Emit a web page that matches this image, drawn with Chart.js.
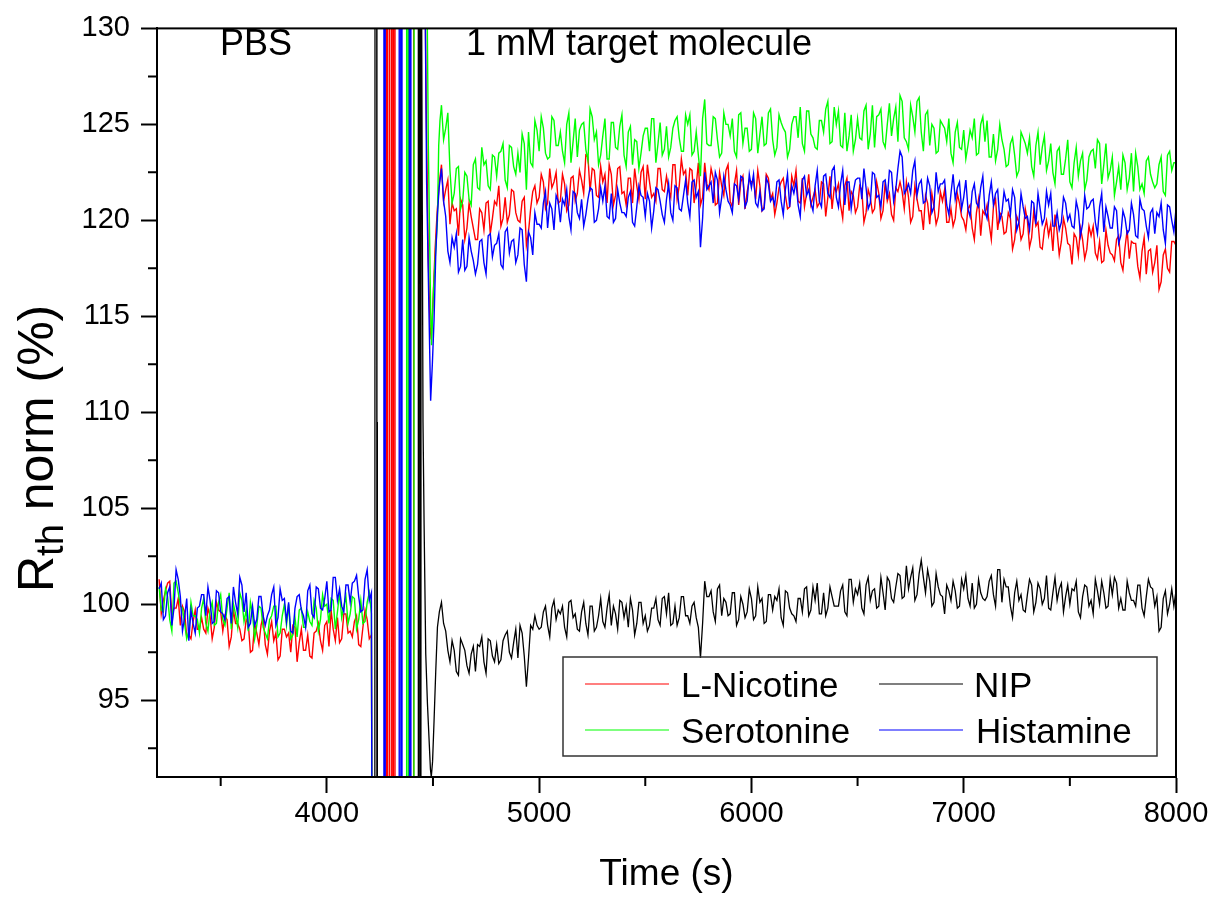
<!DOCTYPE html>
<html><head><meta charset="utf-8">
<script src="https://cdn.jsdelivr.net/npm/chart.js@4.4.0/dist/chart.umd.min.js"></script>
<style>html,body{margin:0;padding:0;background:#fff;}#wrap{width:1222px;height:899px;position:relative;}</style>
</head><body><div id="wrap"><canvas id="c" width="1222" height="899"></canvas></div>
<script>
// ---------- DATA ----------
const seriesNames = ['L-Nicotine', 'NIP', 'Serotonine', 'Histamine'];
const xTicksMajor = [4000, 5000, 6000, 7000, 8000];
const xTicksMinor = [3500, 4500, 5500, 6500, 7500];
const yTicksMajor = [95, 100, 105, 110, 115, 120, 125, 130];
const yTicksMinor = [92.5, 97.5, 102.5, 107.5, 112.5, 117.5, 122.5, 127.5];

// PBS baseline sampling: 3210 s .. 4210 s every 20 s (in-between samples at 3220 .. 4200)
const BASE_T0 = 3210, BASE_MID_T0 = 3220, BASE_DT = 20;
// target sampling: 4540 s .. 8000 s every 20 s (in-between samples at 4550 .. 7990)
const TGT_T0 = 4540, TGT_MID_T0 = 4550, TGT_DT = 20;

const blueBase = [100.8,99.2,100.6,98.9,101.8, 100.4,99.3,98.1,99.0,99.8, 100.5,99.4,100.2,99.1,100.6,
 99.5,100.3,99.0,100.1,101.4, 99.6,98.8,99.9,99.2,100.4, 98.9,99.7,100.9,99.3,100.2,
 99.1,98.6,99.8,100.5,99.4, 100.7,99.5,100.9,99.8,100.3, 99.6,101.4,100.2,99.9,101.0,
 100.1,101.2,100.4,99.7,101.8, 100.6];
const blueBaseMid = [101.1,99.4,100.9,99.8,101.3, 98.6,100.3,99.7,98.5,99.9, 100.5,100.9,99.0,100.7,99.6,
 99.2,100.4,100.9,99.5,101.0, 100.6,99.0,98.9,100.4,99.4, 99.4,100.5,98.9,100.8,100.3,
 100.1,98.5,100.4,99.7,98.8, 101.0,99.3,100.8,99.7,101.2, 99.7,101.4,100.8,99.6,101.0,
 101.1,101.5,99.6,101.3,100.2];
const redBase = [101.3,100.2,101.1,99.4,99.8, 98.9,99.6,98.4,99.1,98.7, 99.3,98.5,99.4,98.8,99.7,
 98.6,99.2,98.3,99.0,98.7, 98.2,99.0,97.6,98.5,98.9, 97.9,98.6,98.1,97.1,98.7,
 98.3,97.5,98.8,98.0,97.6, 98.4,97.2,98.6,98.1,98.9, 97.8,98.7,99.3,98.2,99.5,
 98.6,99.1,97.9,98.8,99.2, 98.4];
const redBaseMid = [99.5,100.7,101.2,99.8,100.3, 99.9,98.3,98.2,99.7,98.7, 98.7,99.8,98.2,100.1,99.6,
 99.4,97.8,99.7,99.0,98.1, 99.2,97.5,99.0,97.9,99.4, 97.4,99.1,98.5,97.3,98.7,
 98.5,98.9,97.0,98.7,97.6, 97.3,98.5,99.0,97.6,99.1, 99.7,98.1,98.0,99.5,98.5,
 98.3,99.4,97.8,99.7,98.2];
const greenBase = [100.9,99.6,100.4,98.6,101.2, 99.9,99.0,98.6,99.4,99.2, 99.8,99.0,99.7,98.9,100.1,
 99.2,99.8,98.7,99.5,100.6, 99.1,98.6,99.5,98.9,99.8, 98.5,99.2,99.9,98.3,99.4,
 98.9,98.2,99.3,99.7,98.8, 99.6,98.9,99.8,99.2,99.9, 99.0,100.2,99.6,99.3,100.4,
 99.5,100.3,99.2,99.0,100.1, 99.5];
const greenBaseMid = [99.7,100.8,99.2,101.1,100.6, 99.8,98.2,100.1,99.4,98.5, 100.3,98.6,100.1,99.0,100.5,
 98.9,100.6,100.0,98.8,100.2, 99.7,100.1,98.2,99.9,98.8, 98.2,99.4,99.9,98.5,100.0,
 100.0,98.4,98.3,99.8,98.8, 99.1,100.2,98.6,100.5,100.0, 100.3,98.7,100.6,99.9,99.0,
 100.4,98.7,100.2,99.1,100.6];

// injection region (times in s, values in %)
const nipSpikeT = [4226,4227,4235,4236,4237,4238,4430,4431,4437,4438,4443,4444,4453,4458,4466,4474,4481,4488,4492,4498,4505,4513,4521,4530];
const nipSpikeV = [80,140,140,80,109.5,80,80,140,140,80,80,140,109.5,104.3,97.4,94.8,93.1,91.4,91.0,91.8,93.9,96.5,98.8,99.6];
const redSpikeT = [4215,4279,4280,4286,4287,4295,4296,4305,4306,4312,4313,4320,4321,4408,4409,4456,4468,4478,4486,4492,4500,4510,4520,4530];
const redSpikeV = [80,80,140,140,80,80,140,140,80,80,140,140,80,80,140,140,126,118,114.5,113.8,115.8,118.5,120.5,122.0];
const greenSpikeT = [4214,4375,4376,4383,4384,4385,4410,4411,4466,4478,4489,4493,4503,4513,4521,4527,4533];
const greenSpikeV = [80,80,140,140,103.5,80,80,140,140,124,115.3,113.5,116.5,118.5,120.0,123.9,125.2];
const blueSpikeT = [4214,4268,4269,4274,4275,4340,4341,4348,4349,4353,4354,4388,4389,4390,4395,4396,4457,4470,4481,4489,4497,4505,4513,4521,4529];
const blueSpikeV = [80,80,140,140,80,80,140,140,80,80,140,140,118.5,80,80,140,140,122,115.3,110.6,112.5,114.8,118.2,120.3,121.7];

const greenTarget = [126.0,124.8,122.6,
121.4,122.8,121.0,122.3,120.8, 123.2,121.6,122.9,121.8,123.4, 122.3,123.6,122.1,123.9,122.8,
123.5,124.5,121.6,123.0,125.2, 123.6,124.8,123.2,125.4,123.9, 124.6,123.0,125.6,124.1,123.3,
125.0,123.7,125.8,124.2,122.9, 124.4,123.2,125.1,123.8,124.9, 123.4,124.6,122.9,124.1,123.5,
124.8,123.6,125.3,124.0,123.4, 124.9,123.8,125.2,124.3,123.6, 125.0,123.4,124.6,122.3,126.3,
123.9,125.4,124.2,123.5,125.0, 124.4,123.6,125.5,124.0,124.8, 123.7,125.3,124.5,123.9,125.6,
124.2,123.8,125.1,124.6,123.7, 125.4,124.3,124.0,125.7,124.5, 123.8,125.2,124.6,126.2,124.1,
125.0,123.9,125.6,124.4,123.6, 125.3,124.2,126.0,124.5,123.8, 125.5,124.1,125.0,124.4,125.9,
126.5,124.3,123.7,125.4,126.2, 124.6,125.5,123.9,124.8,123.6, 125.0,124.1,123.5,124.6,123.8,
124.7,123.9,124.3,123.4,125.0, 124.1,123.3,124.5,123.7,124.2, 122.8,124.0,123.4,122.6,124.3,
123.5,122.8,123.9,122.9,124.4, 123.1,122.5,123.6,122.4,123.2, 122.0,123.0,122.3,123.5,122.1,
123.6,122.7,124.0,122.9,122.2, 123.3,122.0,121.6,123.0,122.2, 121.5,122.8,121.9,123.1,122.4,
121.7,122.9,121.5,123.4,122.6, 123.0];
const greenTargetMid = [124.2,125.6,120.9,
122.7,120.6,122.5,121.1,122.9, 121.7,123.8,123.1,121.6,123.3, 123.5,124.0,121.7,123.8,122.4,
122.5,124.0,124.6,122.8,124.7, 125.4,123.5,123.3,125.2,123.9, 123.6,125.0,123.0,125.3,124.7,
125.1,123.1,125.4,124.6,123.4, 125.3,123.2,125.1,123.7,125.5, 122.8,124.9,124.2,122.7,124.4,
124.8,125.3,123.0,125.1,123.7, 123.3,124.8,125.4,123.6,125.5, 125.5,123.6,123.4,125.3,124.0,
123.9,125.3,123.3,125.6,125.0, 125.3,123.3,125.6,124.8,123.6, 125.6,123.5,125.4,124.0,125.8,
123.4,125.5,124.8,123.3,125.0, 125.4,125.9,123.6,125.7,124.3, 123.7,125.2,125.8,124.0,125.9,
125.7,123.8,123.6,125.5,124.2, 124.3,125.7,123.7,126.0,125.4, 125.8,123.8,126.1,125.3,124.1,
126.2,124.1,126.0,124.6,126.4, 123.6,125.7,125.0,123.5,125.2, 124.8,125.3,123.0,125.1,123.7,
123.2,124.7,125.3,123.5,125.4, 125.2,123.3,123.1,125.0,123.7, 122.9,124.3,122.3,124.6,124.0,
124.3,122.3,124.6,123.8,122.6, 124.0,121.9,123.8,122.4,124.2, 121.7,123.8,123.1,121.6,123.3,
123.7,124.2,121.9,124.0,122.6, 121.3,122.8,123.4,121.6,123.5, 123.5,121.6,121.4,123.3,122.0,
121.9,123.3,121.3,123.6,123.0];

const redTarget = [122.9,121.6,119.8,
120.5,119.2,120.8,119.6,120.2, 119.0,120.6,119.5,121.0,120.1, 120.8,119.7,121.2,120.3,121.5,
120.0,121.0,118.7,120.6,121.8, 121.2,122.0,120.9,121.7,122.5, 121.0,121.9,120.8,122.3,121.4,
122.1,123.4,121.5,122.6,121.2, 122.0,120.9,122.4,121.3,122.8, 121.5,122.2,120.9,121.8,122.5,
121.1,122.0,121.4,122.7,121.6, 122.3,121.2,122.9,121.8,122.4, 121.3,122.6,121.8,120.8,123.0,
121.6,122.2,120.9,121.8,122.6, 121.0,121.9,120.8,122.3,121.5, 122.0,121.1,121.8,120.7,122.2,
121.4,120.9,122.0,121.3,120.7, 121.8,121.0,122.2,121.4,120.8, 121.6,120.9,121.9,121.2,120.6,
121.5,120.8,121.8,120.5,121.3, 120.7,121.6,120.4,121.2,120.6, 121.4,120.5,121.0,120.3,121.7,
122.0,120.6,121.2,120.2,121.1, 120.5,121.3,119.8,120.7,120.2, 121.0,119.9,120.6,120.1,120.9,
120.0,120.6,119.6,120.4,119.2, 120.3,119.8,120.7,119.5,120.2, 119.4,120.1,119.0,119.9,119.3,
120.0,119.1,119.7,118.6,119.5, 119.2,118.4,119.4,118.9,119.6, 118.7,119.3,118.2,119.0,118.5,
119.2,118.3,118.9,117.9,118.7, 118.2,119.0,117.8,118.6,118.0, 118.8,117.6,118.4,117.2,118.5,
117.8,116.4,118.2,117.5,118.9, 118.7];
const redTargetMid = [121.0,122.1,120.9,
120.6,121.1,119.0,120.9,119.6, 119.0,120.4,120.9,119.3,121.0, 121.8,120.1,119.9,121.6,120.4,
119.9,121.2,119.4,121.5,120.9, 122.4,120.6,122.7,122.0,120.9, 122.4,120.5,122.2,121.0,122.6,
121.4,123.3,122.7,121.3,122.8, 122.4,122.9,120.8,122.7,121.4, 120.8,122.2,122.7,121.1,122.8,
122.9,121.2,121.0,122.7,121.5, 121.6,122.9,121.1,123.2,122.6, 122.7,120.9,123.0,121.2,121.9,
122.7,120.8,122.5,121.3,122.9, 120.7,122.6,122.0,120.6,122.1, 122.1,122.6,120.5,122.4,121.1,
120.3,121.7,122.2,120.6,122.3, 122.6,120.9,120.7,122.4,121.2, 120.7,122.0,120.2,122.3,121.7,
121.9,120.1,122.2,121.5,120.4, 121.8,119.9,121.6,120.4,122.0, 120.1,122.0,121.4,120.0,121.5,
121.5,122.0,119.9,121.8,120.5, 119.5,120.9,121.4,119.8,121.5, 121.6,119.9,119.7,121.4,120.2,
119.5,120.8,119.0,121.1,120.5, 120.8,119.0,121.1,120.4,119.3, 120.4,118.5,120.2,119.0,120.6,
118.6,120.5,119.9,118.5,120.0, 119.8,120.3,118.2,120.1,118.8, 117.7,119.1,119.6,118.0,119.7,
119.7,118.0,117.8,119.5,118.3, 117.9,119.2,117.4,119.5,118.9, 118.8,117.0,119.1,118.4,117.3,
118.7,116.8,118.5,117.3,118.9];

const blueTarget = [122.7,120.2,117.8,
118.6,117.3,119.0,117.6,118.4, 117.2,118.9,117.8,119.2,118.1, 118.8,117.7,119.4,118.3,119.0,
118.2,119.5,116.8,119.1,120.4, 119.8,120.9,119.6,120.6,121.3, 119.9,120.8,120.2,121.5,120.4,
121.1,120.3,121.7,119.9,120.6, 121.0,120.2,121.4,120.1,120.9, 120.4,121.2,119.9,120.7,121.3,
120.2,121.0,120.5,121.6,120.3, 121.1,120.4,121.8,120.6,121.3, 120.9,122.0,121.2,118.6,122.5,
121.8,120.9,122.1,121.2,121.6, 120.8,121.9,121.1,122.2,121.0, 121.7,120.9,121.5,120.6,121.9,
121.2,122.0,121.0,121.6,120.7, 121.4,120.8,122.1,121.3,120.9, 121.8,121.0,122.3,121.4,122.6,
121.2,121.9,120.8,122.0,121.5, 122.2,121.1,121.7,120.9,122.4, 121.3,122.0,121.1,122.5,121.6,
123.6,121.4,121.9,122.6,121.3, 122.1,121.0,121.8,120.7,121.5, 121.9,120.8,121.4,121.1,122.0,
121.2,120.6,121.5,120.9,121.7, 120.5,121.3,120.8,121.6,120.4, 121.0,120.3,121.2,119.9,120.7,
120.2,121.0,119.8,120.6,120.1, 120.8,119.7,120.4,119.9,120.9, 120.3,119.6,120.5,119.8,120.6,
121.0,119.9,120.7,119.4,120.2, 119.6,120.5,119.2,120.1,119.5, 120.3,119.1,120.6,119.7,120.4,
119.3,120.2,119.5,120.8,120.0, 120.6];
const blueTargetMid = [121.0,118.4,119.1,
119.3,117.6,117.4,119.1,117.9, 117.7,119.0,117.2,119.3,118.7, 119.3,117.5,119.6,118.9,117.8,
119.6,117.7,119.4,118.2,119.8, 119.6,121.5,120.9,119.5,121.0, 121.1,121.6,119.5,121.4,120.1,
119.7,121.1,121.6,120.0,121.7, 121.8,120.1,119.9,121.6,120.4, 120.2,121.5,119.7,121.8,121.2,
121.4,119.6,121.7,121.0,119.9, 121.9,120.0,121.7,120.5,122.1, 120.2,122.1,121.5,120.1,121.6,
122.0,122.5,120.4,122.3,121.0, 120.4,121.8,122.3,120.7,122.4, 122.4,120.7,120.5,122.2,121.0,
120.8,122.1,120.3,122.4,121.8, 122.0,120.2,122.3,121.6,120.5, 122.6,120.7,122.4,121.2,122.8,
120.7,122.6,122.0,120.6,122.1, 122.2,122.7,120.6,122.5,121.2, 120.7,122.1,122.6,121.0,122.7,
123.3,121.6,121.4,123.1,121.9, 120.9,122.2,120.4,122.5,121.9, 122.1,120.3,122.4,121.7,120.6,
122.1,120.2,121.9,120.7,122.3, 120.1,122.0,121.4,120.0,121.5, 121.1,121.6,119.5,121.4,120.1,
119.5,120.9,121.4,119.8,121.5, 121.4,119.7,119.5,121.2,120.0, 119.7,121.0,119.2,121.3,120.7,
121.1,119.3,121.4,120.7,119.6, 120.7,118.8,120.5,119.3,120.9, 119.2,121.1,120.5,119.1,120.6,
120.4,120.9,118.8,120.7,119.4];

const nipTarget = [100.1,98.6,97.0,
97.6,96.3,97.9,96.8,97.4, 96.5,97.8,97.0,98.2,97.3, 97.9,97.1,98.4,97.5,98.0,
97.2,98.5,95.7,98.9,99.4, 98.7,99.6,98.9,99.8,99.2, 99.5,98.8,100.1,99.3,98.7,
99.6,99.0,99.9,98.6,99.4, 99.1,99.8,98.9,99.5,100.2, 99.3,98.8,99.7,99.0,100.1,
99.4,98.9,99.8,99.2,100.3, 99.5,98.9,99.9,99.3,100.4, 99.4,99.9,99.3,97.2,101.2,
100.4,99.6,100.8,99.4,100.1, 99.5,100.6,99.2,100.0,99.6, 100.3,99.4,100.1,99.0,100.5,
99.7,100.2,99.3,100.7,99.8, 99.4,100.3,99.6,100.9,99.7, 100.2,99.5,100.6,99.8,100.4,
99.9,100.7,99.6,101.3,100.1, 100.5,99.8,101.0,100.2,100.8, 99.9,100.6,101.4,100.3,100.9,
101.5,100.4,100.8,101.9,100.5, 102.3,100.6,101.2,100.1,100.9, 100.4,101.0,100.2,100.7,99.9,
100.8,100.3,101.1,100.0,100.6, 100.2,101.2,100.5,101.8,100.1, 100.9,99.9,100.6,100.2,99.7,
100.5,101.0,100.1,100.8,100.3, 99.8,100.6,100.2,101.1,100.4, 100.0,100.7,99.6,100.4,100.9,
100.2,101.3,100.0,100.6,99.9, 100.5,101.1,100.3,99.7,100.6, 100.2,101.0,99.8,100.4,100.9,
99.9,98.6,100.3,99.5,100.8, 100.7];
const nipTargetMid = [99.0,97.6,98.1,
96.5,98.2,97.6,96.4,97.8, 97.9,98.3,96.4,98.1,97.0, 96.9,98.1,98.6,97.2,98.7,
98.9,97.3,97.2,98.7,98.9, 98.8,99.9,98.3,100.2,99.7, 99.9,98.3,100.2,99.5,98.6,
100.1,98.4,99.9,98.8,100.3, 98.8,100.5,99.9,98.7,100.1, 99.9,100.3,98.4,100.1,99.0,
98.6,99.8,100.3,98.9,100.4, 100.6,99.0,98.9,100.4,99.4, 99.0,100.1,98.8,99.0,100.4,
100.7,99.1,101.0,100.3,99.4, 100.6,98.9,100.4,99.3,100.8, 99.2,100.9,100.3,99.1,100.5,
100.4,100.8,98.9,100.6,99.5, 99.1,100.3,100.8,99.4,100.9, 101.1,99.5,99.4,100.9,99.9,
99.9,101.0,99.4,101.3,100.8, 101.1,99.5,101.4,100.7,99.8, 101.4,99.7,101.2,100.1,101.6,
100.3,102.0,101.4,100.2,101.6, 101.4,101.8,99.9,101.6,100.5, 99.5,100.7,101.2,99.8,101.3,
101.5,99.9,99.8,101.3,100.3, 100.4,101.5,99.9,101.8,101.3, 100.9,99.3,101.2,100.5,99.6,
101.3,99.6,101.1,100.0,101.5, 99.7,101.4,100.8,99.6,101.0, 100.8,101.2,99.3,101.0,99.9,
99.5,100.7,101.2,99.8,101.3, 101.4,99.8,99.7,101.2,100.2, 99.9,101.0,99.4,101.3,100.8,
100.4,98.8,100.7,100.0,99.9];

// ---------- BUILD POINTS ----------
function samples(vals, t0, dt) { return vals.map((v, i) => ({x: t0 + i * dt, y: v})); }
function buildSeries(base, baseMid, spikeT, spikeV, target, targetMid) {
  const pts = [].concat(
    samples(base, BASE_T0, BASE_DT), samples(baseMid, BASE_MID_T0, BASE_DT),
    spikeT.map((t, i) => ({x: t, y: spikeV[i]})),
    samples(target, TGT_T0, TGT_DT), samples(targetMid, TGT_MID_T0, TGT_DT));
  return pts.sort((a, b) => a.x - b.x);
}
const FONT = '"Liberation Sans", Arial, sans-serif';
const colors = {'L-Nicotine': '#ff0000', 'NIP': '#000000', 'Serotonine': '#00ff00', 'Histamine': '#0000ff'};

// drawing order: first dataset is drawn on top
const datasets = [
  {label: 'Histamine', data: buildSeries(blueBase, blueBaseMid, blueSpikeT, blueSpikeV, blueTarget, blueTargetMid), borderColor: colors['Histamine'], borderWidth: 1.4},
  {label: 'Serotonine', data: buildSeries(greenBase, greenBaseMid, greenSpikeT, greenSpikeV, greenTarget, greenTargetMid), borderColor: colors['Serotonine'], borderWidth: 1.4},
  {label: 'L-Nicotine', data: buildSeries(redBase, redBaseMid, redSpikeT, redSpikeV, redTarget, redTargetMid), borderColor: colors['L-Nicotine'], borderWidth: 1.4},
  {label: 'NIP', data: buildSeries([], [], nipSpikeT, nipSpikeV, nipTarget, nipTargetMid), borderColor: colors['NIP'], borderWidth: 1.3}
].map(d => Object.assign(d, {pointRadius: 0, tension: 0, fill: false, borderJoinStyle: 'miter'}));

const deco = {
  id: 'deco',
  beforeDraw(chart) {
    const c = chart.ctx; c.save(); c.fillStyle = '#fff'; c.fillRect(0, 0, chart.width, chart.height); c.restore();
  },
  afterDatasetsDraw(chart) {
    const c = chart.ctx, a = chart.chartArea, x = chart.scales.x, y = chart.scales.y;
    c.save();
    c.strokeStyle = '#000'; c.lineWidth = 2;
    c.strokeRect(a.left, a.top, a.right - a.left, a.bottom - a.top);
    c.beginPath();
    xTicksMinor.forEach(v => { const p = x.getPixelForValue(v); c.moveTo(p, a.bottom); c.lineTo(p, a.bottom + 9); });
    yTicksMinor.forEach(v => { const p = y.getPixelForValue(v); c.moveTo(a.left, p); c.lineTo(a.left - 9, p); });
    c.stroke();
    // annotations
    c.fillStyle = '#000'; c.textBaseline = 'alphabetic'; c.textAlign = 'left';
    c.font = '36px ' + FONT;
    c.fillText('PBS', 220, 55);
    c.fillText('1 mM target molecule', 466, 55);
    // legend
    c.lineWidth = 1.5; c.strokeStyle = '#333';
    c.strokeRect(563, 657, 594, 99);
    const items = [
      {name: 'L-Nicotine', lx: 585, tx: 681, ly: 684},
      {name: 'NIP', lx: 879, tx: 974, ly: 684},
      {name: 'Serotonine', lx: 585, tx: 681, ly: 730},
      {name: 'Histamine', lx: 879, tx: 976, ly: 730}
    ];
    c.font = '35px ' + FONT;
    items.forEach(it => {
      c.strokeStyle = colors[it.name]; c.lineWidth = 1.2;
      c.beginPath(); c.moveTo(it.lx, it.ly); c.lineTo(it.lx + 84, it.ly); c.stroke();
      c.fillStyle = '#000'; c.fillText(it.name, it.tx, it.ly + 12.5);
    });
    // axis titles
    c.font = '37px ' + FONT; c.textAlign = 'center';
    c.fillText('Time (s)', (a.left + a.right) / 2, 885);
    // rotated y title with subscript, starting at y = 592
    const big = '50px ' + FONT, small = '38px ' + FONT;
    c.font = big; const wR = c.measureText('R').width;
    c.font = small; const wT = c.measureText('th').width;
    c.translate(53, 592); c.rotate(-Math.PI / 2); c.textAlign = 'left';
    c.font = big; c.fillText('R', 0, 0);
    c.font = small; c.fillText('th', wR, 10);
    c.font = big; c.fillText(' norm (%)', wR + wT, 0);
    c.restore();
  }
};

const tickFont = {family: FONT, size: 29};
new Chart(document.getElementById('c'), {
  type: 'line',
  data: {datasets},
  options: {
    responsive: false, animation: false, devicePixelRatio: 1,
    parsing: false, normalized: true,
    layout: {padding: {left: 0, top: 23, right: 46, bottom: 0}},
    plugins: {legend: {display: false}, tooltip: {enabled: false}},
    scales: {
      x: {type: 'linear', min: 3200, max: 8000,
        afterBuildTicks(s) { s.ticks = xTicksMajor.map(v => ({value: v})); },
        ticks: {callback: v => String(v), font: tickFont, color: '#000', padding: 4, maxRotation: 0, autoSkip: false},
        grid: {drawOnChartArea: false, drawTicks: true, tickLength: 16, tickWidth: 2, tickColor: '#000'},
        border: {display: true, color: '#000', width: 2},
        afterFit(s) { s.height = 122; }},
      y: {type: 'linear', min: 91, max: 130,
        afterBuildTicks(s) { s.ticks = yTicksMajor.map(v => ({value: v})); },
        ticks: {callback: v => String(v), font: tickFont, color: '#000', padding: 11},
        grid: {drawOnChartArea: false, drawTicks: true, tickLength: 16, tickWidth: 2, tickColor: '#000'},
        border: {display: true, color: '#000', width: 2},
        afterFit(s) { s.width = 157; }}
    }
  },
  plugins: [deco]
});
</script></body></html>
